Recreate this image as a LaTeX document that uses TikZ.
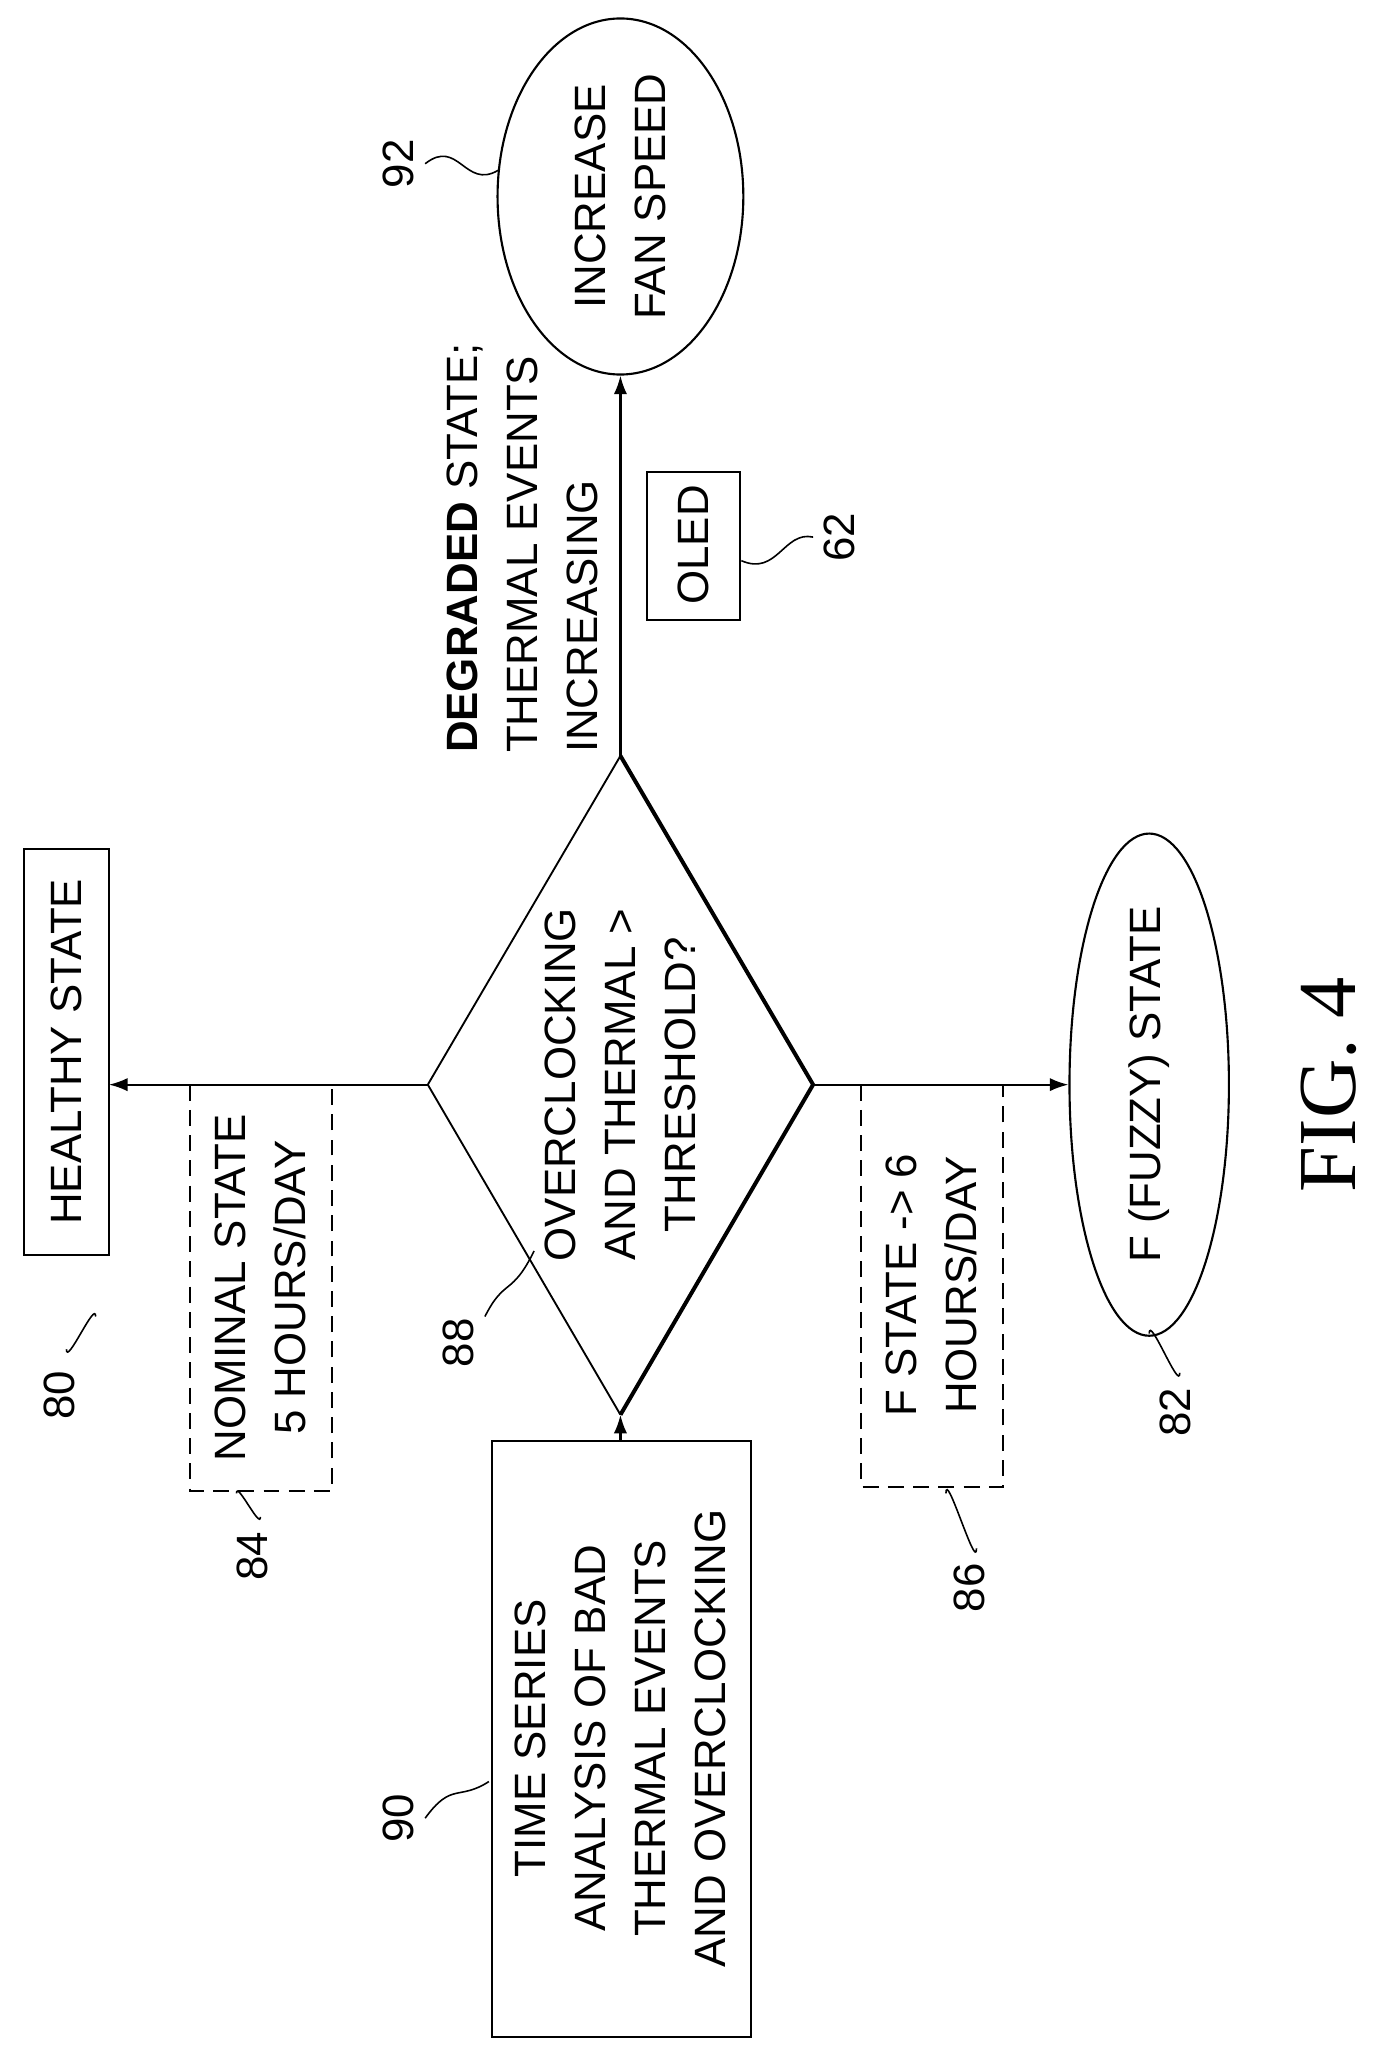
\documentclass[tikz,border=0pt]{standalone}
\usepackage{fontspec}
\setmainfont{Liberation Sans}
\newfontfamily\serif{Liberation Serif}
\usetikzlibrary{shapes.geometric,arrows.meta}
\begin{document}
\begin{tikzpicture}[x=1pt,y=-0.986pt,
  txt/.style={rotate=90,font=\fontsize{33}{45}\selectfont,align=center,inner sep=0pt},
  box/.style={draw,line width=1.6pt},
  dbox/.style={draw,line width=1.4pt,dash pattern=on 12pt off 7pt},
  arr/.style={line width=1.6pt,-{Latex[length=14pt,width=10pt]}},
  lead/.style={line width=1.2pt},
  num/.style={rotate=90,font=\fontsize{33}{40}\selectfont,inner sep=0pt}]
\useasboundingbox (0,0) rectangle (1046,1568);
% boxes
\draw[box] (18,648) rectangle (82,958);
\node[txt] (healthy) at (50,803) {HEALTHY STATE};
\coordinate (hR) at (82,828);
\draw[dbox] (143,828) rectangle (250,1138);
\node[txt] (nom) at (196,983) {NOMINAL STATE\\5 HOURS/DAY};
\draw[box] (370,1100) rectangle (565,1555);
\node[txt] (ts) at (467,1327) {TIME SERIES\\ANALYSIS OF BAD\\THERMAL EVENTS\\AND OVERCLOCKING};
\coordinate (tsT) at (467,1100);
% diamond
\coordinate (dL) at (322,828); \coordinate (dR) at (612,828);
\coordinate (dT) at (467,577); \coordinate (dB) at (467,1080);
\draw[line width=1.4pt] (dL) -- (dT);
\draw[line width=3pt] (dT) -- (dR) -- (dB);
\draw[line width=1.4pt] (dB) -- (dL);
\node[txt] (dia) at (467,828) {OVERCLOCKING\\AND THERMAL \textgreater\\THRESHOLD?};
\draw[dbox] (648,828) rectangle (755,1135);
\node[txt] (fs) at (701,981) {F STATE -\textgreater{} 6\\HOURS/DAY};
\node[draw,ellipse,line width=1.6pt,minimum width=120pt,minimum height=378pt,inner sep=0pt] (fz) at (865,828) {};
\node[txt] at (865,828) {F (FUZZY) STATE};
\node[draw,ellipse,line width=1.6pt,minimum width=185pt,minimum height=268pt,inner sep=0pt] (fan) at (467,150) {};
\node[txt] at (467,150) {INCREASE\\FAN SPEED};
\draw[box] (487,360) rectangle (557,473);
\node[txt] (oled) at (522,416) {OLED};
\node[txt,align=left,anchor=south west] (deg) at (450,575) {\textbf{DEGRADED} STATE;\\THERMAL EVENTS\\INCREASING};
% arrows
\draw[arr] (tsT) -- (dB);
\draw[arr] (dL) -- (hR);
\draw[arr] (dR) -- (fz.west);
\draw[arr] (dT) -- (fan.south);
% numbers and leaders
\node[num] (n80) at (45,1065) {80};
\coordinate (c80) at (72,1040);
\draw[lead] (50,1030) to[out=-90,in=90] (72,1005);
\node[num] (n84) at (190,1188) {84};
\draw[lead] (196,1158) to[out=-90,in=90] (178,1140);
\node[num] (n90) at (300,1388) {90};
\draw[lead] (320,1388) .. controls (340,1360) and (345,1375) .. (368,1360);
\node[num] (n88) at (345,1025) {88};
\draw[lead] (365,1005) .. controls (380,975) and (385,990) .. (402,955);
\node[num] (n86) at (730,1212) {86};
\draw[lead] (735,1182) to[out=-90,in=90] (712,1140);
\node[num] (n82) at (885,1078) {82};
\draw[lead] (888,1048) to[out=-90,in=90] (865,1018);
\node[num] (n92) at (300,125) {92};
\draw[lead] (320,125) .. controls (345,105) and (350,145) .. (375,130);
\node[num] (n62) at (632,410) {62};
\draw[lead] (558,428) .. controls (585,440) and (590,405) .. (612,410);
\node[rotate=90,font=\serif\fontsize{62}{62}\selectfont,inner sep=0pt] (fig) at (1000,828) {FIG. 4};
\end{tikzpicture}
\end{document}
